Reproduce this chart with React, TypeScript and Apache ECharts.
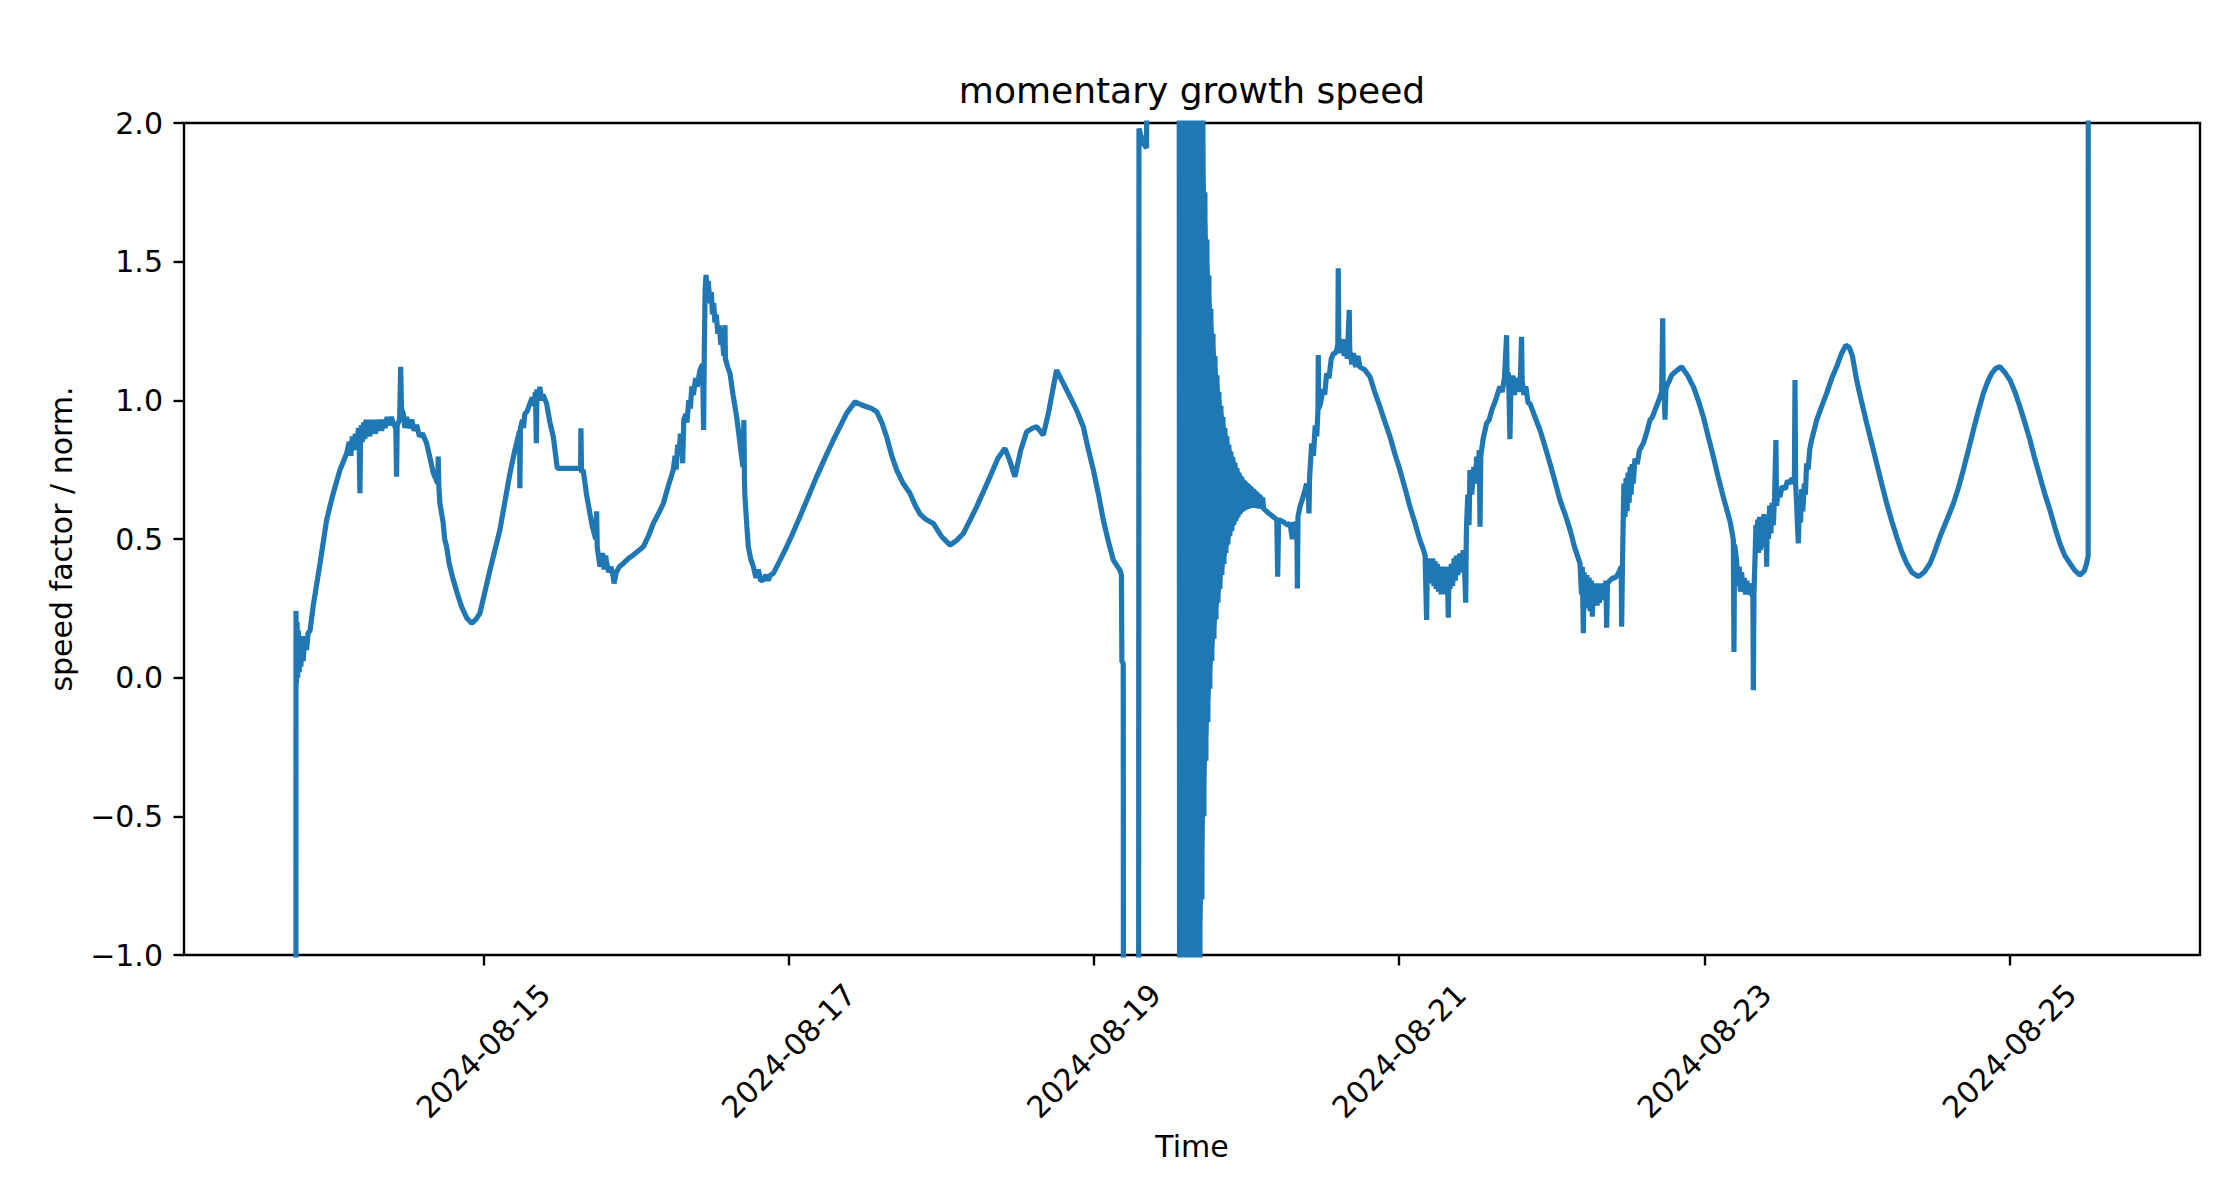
import React, { useEffect, useRef } from "react";
import * as echarts from "echarts";

// Time origin: 2024-08-15 00:00 (UTC). x values are days relative to it.
const ORIGIN = Date.UTC(2024, 7, 15);
const DAY_MS = 86400000;

const xTickLabels = ["2024-08-15", "2024-08-17", "2024-08-19", "2024-08-21", "2024-08-23", "2024-08-25"];
const yTickValues = [-1, -0.5, 0, 0.5, 1, 1.5, 2];

// [day offset, speed factor]
const aug13to15: [number, number][] = [
  [-1.230, -3.0], [-1.229, 0.24], [-1.226, -0.02], [-1.222, 0.20], [-1.218, 0.0], [-1.213, 0.17],
  [-1.208, 0.02], [-1.203, 0.15], [-1.197, 0.04], [-1.190, 0.14], [-1.182, 0.06], [-1.172, 0.15],
  [-1.160, 0.10], [-1.150, 0.16], [-1.137, 0.17], [-1.116, 0.26], [-1.072, 0.41], [-1.028, 0.57],
  [-0.985, 0.665], [-0.941, 0.749], [-0.897, 0.809], [-0.880, 0.85], [-0.870, 0.80], [-0.860, 0.87],
  [-0.850, 0.82], [-0.840, 0.88], [-0.830, 0.83], [-0.820, 0.90], [-0.815, 0.84], [-0.810, 0.665],
  [-0.806, 0.86], [-0.800, 0.91], [-0.795, 0.85], [-0.785, 0.92], [-0.778, 0.86], [-0.770, 0.93],
  [-0.762, 0.87], [-0.752, 0.92], [-0.745, 0.87], [-0.735, 0.93], [-0.727, 0.88], [-0.717, 0.93],
  [-0.708, 0.88], [-0.698, 0.93], [-0.690, 0.89], [-0.679, 0.93], [-0.668, 0.89], [-0.655, 0.93],
  [-0.645, 0.90], [-0.632, 0.94], [-0.620, 0.91], [-0.605, 0.94], [-0.591, 0.917], [-0.575, 0.90],
  [-0.570, 0.725], [-0.566, 0.91], [-0.550, 0.93], [-0.543, 1.121], [-0.538, 0.97], [-0.525, 0.95],
  [-0.515, 0.90], [-0.504, 0.94], [-0.490, 0.90], [-0.470, 0.93], [-0.455, 0.89], [-0.439, 0.911],
  [-0.420, 0.87], [-0.400, 0.88], [-0.373, 0.845], [-0.350, 0.79], [-0.329, 0.737], [-0.300, 0.70],
  [-0.297, 0.797], [-0.293, 0.69], [-0.286, 0.628], [-0.265, 0.56], [-0.255, 0.50], [-0.242, 0.472],
  [-0.225, 0.41], [-0.198, 0.352], [-0.170, 0.30], [-0.144, 0.256], [-0.110, 0.215], [-0.078, 0.196],
  [-0.050, 0.21], [-0.024, 0.232], [0.042, 0.388], [0.107, 0.533], [0.173, 0.737], [0.205, 0.82],
  [0.236, 0.89], [0.238, 0.683], [0.242, 0.90], [0.255, 0.93], [0.262, 0.90], [0.270, 0.95],
  [0.285, 0.96], [0.304, 0.989], [0.320, 1.01], [0.330, 0.98], [0.340, 1.03], [0.346, 0.845],
  [0.350, 1.04], [0.360, 1.00], [0.369, 1.049], [0.380, 1.00], [0.390, 1.02], [0.413, 0.989],
  [0.435, 0.92], [0.457, 0.869], [0.483, 0.755], [0.621, 0.755], [0.636, 0.76], [0.638, 0.899],
  [0.642, 0.74], [0.653, 0.749], [0.675, 0.66], [0.697, 0.592], [0.715, 0.54], [0.735, 0.50],
  [0.741, 0.60], [0.745, 0.47], [0.763, 0.40],
];

const aug15to17: [number, number][] = [
  [0.780, 0.45], [0.790, 0.39], [0.800, 0.44], [0.807, 0.412], [0.820, 0.38], [0.835, 0.40],
  [0.850, 0.364], [0.855, 0.34], [0.870, 0.38], [0.890, 0.40], [0.916, 0.412], [0.950, 0.43],
  [0.981, 0.442], [1.047, 0.472], [1.080, 0.51], [1.112, 0.556], [1.145, 0.59], [1.178, 0.628],
  [1.210, 0.69], [1.243, 0.749], [1.255, 0.80], [1.262, 0.75], [1.272, 0.84], [1.280, 0.80],
  [1.290, 0.88], [1.300, 0.85], [1.305, 0.773], [1.312, 0.93], [1.325, 0.95], [1.333, 0.92],
  [1.345, 1.00], [1.355, 0.97], [1.365, 1.05], [1.375, 1.02], [1.390, 1.08], [1.400, 1.05],
  [1.418, 1.109], [1.435, 1.13], [1.442, 0.893], [1.447, 1.20], [1.452, 1.40], [1.458, 1.452],
  [1.465, 1.38], [1.472, 1.43], [1.484, 1.35], [1.492, 1.39], [1.500, 1.31], [1.508, 1.35],
  [1.516, 1.28], [1.525, 1.31], [1.535, 1.24], [1.545, 1.27], [1.555, 1.20], [1.565, 1.22],
  [1.575, 1.16], [1.582, 1.271], [1.585, 1.15], [1.600, 1.12], [1.615, 1.097], [1.635, 1.02],
  [1.658, 0.941], [1.675, 0.87], [1.691, 0.797], [1.700, 0.76], [1.706, 0.929], [1.710, 0.70],
  [1.713, 0.652], [1.725, 0.55], [1.735, 0.472], [1.750, 0.43], [1.768, 0.400], [1.785, 0.36],
  [1.800, 0.39], [1.815, 0.35], [1.833, 0.352], [1.850, 0.37], [1.865, 0.35], [1.880, 0.37],
  [1.899, 0.376], [1.940, 0.42], [1.986, 0.472], [2.030, 0.525], [2.073, 0.580], [2.130, 0.655],
  [2.183, 0.725], [2.240, 0.795], [2.292, 0.857], [2.340, 0.91], [2.379, 0.953], [2.434, 0.995],
  [2.470, 0.985], [2.510, 0.977], [2.545, 0.97], [2.576, 0.959], [2.610, 0.92], [2.641, 0.869],
  [2.675, 0.80], [2.707, 0.749], [2.750, 0.70], [2.794, 0.665], [2.830, 0.62], [2.860, 0.59],
];

const aug17to19: [number, number][] = [
  [2.900, 0.57], [2.947, 0.556], [3.000, 0.51], [3.057, 0.478], [3.100, 0.495], [3.144, 0.520],
  [3.190, 0.57], [3.231, 0.616], [3.275, 0.67], [3.319, 0.725], [3.370, 0.79], [3.417, 0.827],
  [3.450, 0.78], [3.482, 0.725], [3.520, 0.82], [3.559, 0.887], [3.600, 0.90], [3.624, 0.905],
  [3.668, 0.875], [3.700, 0.95], [3.755, 1.109], [3.800, 1.06], [3.843, 1.013], [3.890, 0.96],
  [3.930, 0.905], [3.960, 0.83], [3.996, 0.749], [4.030, 0.66], [4.061, 0.569], [4.095, 0.49],
  [4.127, 0.424], [4.170, 0.388], [4.180, 0.37], [4.183, 0.06], [4.192, 0.05], [4.196, -5],
  [4.290, -5], [4.295, 1.98], [4.320, 1.93], [4.345, 1.91], [4.352, 5], [4.550, 5],
];

// dense oscillation after the gap on 2024-08-19: each swing goes up to burstUpper and down to burstLower
const burstDays = [
  4.557, 4.570, 4.583, 4.596, 4.609, 4.622, 4.636, 4.649, 4.662, 4.675,
  4.688, 4.701, 4.714, 4.727, 4.740, 4.753, 4.766, 4.780, 4.793, 4.806,
  4.819, 4.832, 4.845, 4.858, 4.871, 4.884, 4.897, 4.910, 4.924, 4.937,
  4.950, 4.967, 4.987, 5.006, 5.026, 5.046, 5.065, 5.085, 5.105,
];
const burstUpper = [
  5, 5, 5, 5, 5, 5, 5, 5, 5, 5,
  5, 5, 2.1, 1.75, 1.58, 1.45, 1.33, 1.24, 1.16, 1.09,
  1.03, 0.98, 0.94, 0.90, 0.87, 0.84, 0.815, 0.795, 0.775, 0.755,
  0.74, 0.725, 0.71, 0.70, 0.69, 0.68, 0.67, 0.66, 0.65,
];
const burstLower = [
  -5, -5, -5, -5, -5, -5, -5, -5, -5, -5,
  -1.2, -0.8, -0.5, -0.3, -0.16, -0.04, 0.06, 0.14, 0.21, 0.27,
  0.32, 0.37, 0.41, 0.45, 0.48, 0.51, 0.53, 0.55, 0.565, 0.578,
  0.59, 0.60, 0.607, 0.612, 0.615, 0.615, 0.614, 0.612, 0.61,
];
const SWING_HALF_DAY = 0.0065;

const aug20to22: [number, number][] = [
  [5.140, 0.595], [5.175, 0.580], [5.198, 0.57], [5.204, 0.364],
  [5.210, 0.57], [5.241, 0.562], [5.270, 0.55], [5.285, 0.556], [5.300, 0.50], [5.310, 0.56],
  [5.330, 0.54], [5.333, 0.322], [5.337, 0.58], [5.350, 0.616], [5.375, 0.66], [5.394, 0.700],
  [5.405, 0.66], [5.409, 0.592], [5.413, 0.72], [5.427, 0.845], [5.438, 0.80], [5.450, 0.91],
  [5.460, 0.87], [5.468, 0.965], [5.470, 1.163], [5.473, 0.97], [5.485, 0.99], [5.500, 1.04],
  [5.512, 1.02], [5.525, 1.097], [5.540, 1.08], [5.555, 1.15], [5.569, 1.169], [5.585, 1.17],
  [5.598, 1.199], [5.601, 1.476], [5.605, 1.19], [5.610, 1.22], [5.620, 1.17], [5.630, 1.22],
  [5.640, 1.16], [5.650, 1.20], [5.660, 1.15], [5.673, 1.326], [5.676, 1.18], [5.690, 1.13],
  [5.700, 1.17], [5.715, 1.12], [5.730, 1.16], [5.743, 1.12], [5.775, 1.11], [5.809, 1.085],
  [5.840, 1.03], [5.874, 0.977], [5.905, 0.925], [5.940, 0.869], [5.970, 0.81], [6.005, 0.749],
  [6.040, 0.68], [6.071, 0.616], [6.105, 0.555], [6.136, 0.496], [6.160, 0.46], [6.170, 0.44],
  [6.180, 0.208], [6.185, 0.43], [6.195, 0.36], [6.202, 0.412], [6.212, 0.34], [6.220, 0.43],
  [6.228, 0.33], [6.235, 0.42], [6.243, 0.32], [6.250, 0.41], [6.258, 0.31], [6.267, 0.40],
  [6.275, 0.30], [6.282, 0.40], [6.290, 0.30], [6.298, 0.39], [6.305, 0.31], [6.315, 0.40],
  [6.322, 0.216], [6.327, 0.38], [6.333, 0.32], [6.342, 0.41], [6.350, 0.33], [6.360, 0.43],
  [6.368, 0.35], [6.375, 0.44], [6.385, 0.37], [6.398, 0.448], [6.408, 0.38], [6.420, 0.46],
  [6.428, 0.40], [6.436, 0.270], [6.440, 0.50], [6.442, 0.556], [6.450, 0.66], [6.458, 0.55],
  [6.464, 0.749], [6.475, 0.66], [6.490, 0.76], [6.500, 0.70], [6.508, 0.797], [6.518, 0.75],
  [6.525, 0.82], [6.530, 0.544], [6.535, 0.80], [6.550, 0.86], [6.573, 0.917], [6.590, 0.93],
  [6.610, 0.97], [6.625, 0.99], [6.639, 1.013], [6.660, 1.05], [6.675, 1.03], [6.690, 1.08],
  [6.704, 1.235], [6.708, 1.07], [6.715, 1.10], [6.720, 1.02], [6.726, 0.86], [6.732, 1.05],
  [6.745, 1.09], [6.755, 1.02], [6.770, 1.08], [6.782, 1.03], [6.795, 1.09], [6.802, 1.229],
  [6.806, 1.07], [6.818, 1.02], [6.830, 1.05], [6.845, 0.99], [6.857, 0.989], [6.890, 0.94],
  [6.923, 0.893], [6.955, 0.835], [6.988, 0.773], [7.020, 0.71], [7.054, 0.640],
];

const aug22to24: [number, number][] = [
  [7.090, 0.585], [7.120, 0.533], [7.150, 0.47], [7.185, 0.412], [7.195, 0.30], [7.200, 0.40],
  [7.207, 0.160], [7.212, 0.38], [7.222, 0.27], [7.230, 0.37], [7.238, 0.25], [7.245, 0.36],
  [7.252, 0.24], [7.260, 0.35], [7.266, 0.22], [7.272, 0.33], [7.280, 0.26], [7.290, 0.34],
  [7.297, 0.26], [7.305, 0.33], [7.312, 0.27], [7.320, 0.34], [7.328, 0.28], [7.338, 0.34],
  [7.348, 0.29], [7.355, 0.35], [7.360, 0.18], [7.365, 0.34], [7.380, 0.35], [7.400, 0.36],
  [7.415, 0.36], [7.430, 0.37], [7.447, 0.388], [7.455, 0.40], [7.458, 0.184], [7.463, 0.40],
  [7.469, 0.592], [7.473, 0.70], [7.480, 0.58], [7.487, 0.72], [7.494, 0.60], [7.500, 0.74],
  [7.507, 0.63], [7.514, 0.76], [7.520, 0.66], [7.527, 0.77], [7.534, 0.70], [7.545, 0.79],
  [7.560, 0.77], [7.575, 0.82], [7.600, 0.845], [7.620, 0.88], [7.644, 0.929], [7.660, 0.94],
  [7.680, 0.97], [7.695, 0.99], [7.709, 1.013], [7.720, 1.03], [7.727, 1.296], [7.731, 1.00],
  [7.737, 1.04], [7.742, 0.93], [7.748, 1.04], [7.760, 1.06], [7.770, 1.07], [7.785, 1.09],
  [7.797, 1.097], [7.825, 1.11], [7.851, 1.121], [7.890, 1.09], [7.928, 1.049], [7.960, 1.00],
  [7.993, 0.941], [8.025, 0.87], [8.059, 0.797], [8.090, 0.725], [8.124, 0.652], [8.150, 0.60],
  [8.170, 0.56], [8.190, 0.496], [8.194, 0.093], [8.198, 0.48], [8.210, 0.43], [8.220, 0.33],
  [8.228, 0.40], [8.236, 0.31], [8.244, 0.38], [8.255, 0.31], [8.262, 0.36], [8.270, 0.30],
  [8.278, 0.35], [8.285, 0.30], [8.292, 0.34], [8.300, 0.30], [8.310, 0.304], [8.318, 0.29],
  [8.321, -0.045], [8.325, 0.30], [8.333, 0.45], [8.338, 0.55], [8.343, 0.46], [8.350, 0.57],
  [8.355, 0.45], [8.362, 0.58], [8.368, 0.46], [8.375, 0.58], [8.382, 0.47], [8.390, 0.59],
  [8.397, 0.48], [8.404, 0.58], [8.408, 0.40], [8.412, 0.55], [8.420, 0.50], [8.428, 0.62],
  [8.436, 0.52], [8.444, 0.63], [8.452, 0.55], [8.460, 0.65], [8.469, 0.857], [8.473, 0.62],
  [8.482, 0.66], [8.495, 0.652], [8.510, 0.69], [8.530, 0.68], [8.545, 0.71], [8.561, 0.700],
  [8.575, 0.72], [8.590, 0.70], [8.594, 1.073], [8.598, 0.70], [8.605, 0.62], [8.610, 0.55],
  [8.616, 0.484], [8.622, 0.62], [8.630, 0.56], [8.638, 0.68], [8.645, 0.60], [8.655, 0.70],
  [8.662, 0.66], [8.670, 0.773], [8.680, 0.75], [8.690, 0.82], [8.700, 0.85], [8.736, 0.929],
  [8.770, 0.98], [8.801, 1.025], [8.835, 1.08], [8.867, 1.121], [8.900, 1.17], [8.928, 1.199],
];

const aug24to25: [number, number][] = [
  [8.950, 1.19], [8.970, 1.16], [8.998, 1.073], [9.030, 0.995], [9.064, 0.917], [9.097, 0.845],
  [9.129, 0.773], [9.162, 0.70], [9.195, 0.628], [9.228, 0.565], [9.260, 0.508], [9.293, 0.455],
  [9.326, 0.412], [9.360, 0.38], [9.402, 0.364], [9.440, 0.38], [9.479, 0.412], [9.510, 0.455],
  [9.544, 0.508], [9.590, 0.57], [9.632, 0.628], [9.665, 0.685], [9.697, 0.749], [9.730, 0.82],
  [9.763, 0.893], [9.795, 0.96], [9.828, 1.025], [9.855, 1.065], [9.883, 1.097], [9.910, 1.115],
  [9.937, 1.121], [9.970, 1.10], [10.003, 1.073], [10.035, 1.03], [10.068, 0.977], [10.100, 0.92],
  [10.134, 0.857], [10.165, 0.79], [10.199, 0.725], [10.232, 0.66], [10.265, 0.604], [10.298, 0.54],
  [10.330, 0.484], [10.362, 0.44], [10.396, 0.412], [10.430, 0.385], [10.461, 0.370], [10.490, 0.385],
  [10.505, 0.412], [10.515, 0.44], [10.517, 5],
];

const X_MIN_DAY = -1.963;
const X_MAX_DAY = 11.248;

const FONT = "DejaVu Sans";
const BLUE = "#1f77b4";

function fmtY(v: number): string {
  const s = Math.abs(v).toFixed(1);
  return v < 0 ? "\u2212" + s : s;
}

const toMs = (d: number) => ORIGIN + d * DAY_MS;

export default function App() {
  const ref = useRef<HTMLDivElement | null>(null);

  useEffect(() => {
    if (!ref.current) return;
    const chart = echarts.init(ref.current, undefined, { renderer: "svg" });

    const burstSwings: [number, number][] = [];
    burstDays.forEach((d, i) => {
      burstSwings.push([d, burstUpper[i]]);
      burstSwings.push([d + SWING_HALF_DAY, burstLower[i]]);
    });

    const all = [
      ...aug13to15, ...aug15to17, ...aug17to19, ...burstSwings,
      ...aug20to22, ...aug22to24, ...aug24to25,
    ];
    const data = all.map(([d, v]) => [toMs(d), v]);
    const envelopeData = burstDays.map((d, i) => [toMs(d), burstUpper[i], burstLower[i]]);
    const xTickValues = xTickLabels.map((s) => Date.parse(s + "T00:00:00Z"));
    const yLo = yTickValues[0];
    const yHi = yTickValues[yTickValues.length - 1];
    const clampY = (v: number) => Math.max(yLo, Math.min(yHi, v));

    chart.setOption({
      animation: false,
      backgroundColor: "#ffffff",
      title: {
        text: "momentary growth speed",
        left: 1192,
        top: 72,
        padding: 0,
        textAlign: "center",
        textStyle: { fontFamily: FONT, fontSize: 36, fontWeight: "normal", color: "#000" },
      },
      grid: {
        left: 184, right: 38, top: 123, bottom: 224,
        show: true, borderColor: "#000", borderWidth: 2.4, backgroundColor: "transparent",
        containLabel: false,
      },
      xAxis: {
        type: "value",
        min: toMs(X_MIN_DAY),
        max: toMs(X_MAX_DAY),
        name: "Time",
        nameLocation: "middle",
        nameGap: 191,
        nameTextStyle: { fontFamily: FONT, fontSize: 30, color: "#000", verticalAlign: "middle", align: "center" },
        axisLine: { show: false, onZero: false },
        splitLine: { show: false },
        axisTick: {
          show: true, inside: false, length: 10.5, customValues: xTickValues,
          lineStyle: { color: "#000", width: 2.4 },
        },
        axisLabel: {
          show: true, customValues: xTickValues, rotate: 45, margin: 96,
          align: "center", verticalAlign: "middle",
          fontFamily: FONT, fontSize: 30, color: "#000",
          formatter: (val: number) => {
            const i = xTickValues.indexOf(val);
            return i >= 0 ? xTickLabels[i] : "";
          },
        },
      },
      yAxis: {
        type: "value",
        min: yLo,
        max: yHi,
        interval: 0.5,
        name: "speed factor / norm.",
        nameLocation: "middle",
        nameGap: 123,
        nameTextStyle: { fontFamily: FONT, fontSize: 30, color: "#000", verticalAlign: "middle", align: "center" },
        axisLine: { show: false, onZero: false },
        splitLine: { show: false },
        axisTick: { show: true, inside: false, length: 10.5, lineStyle: { color: "#000", width: 2.4 } },
        axisLabel: {
          margin: 21, fontFamily: FONT, fontSize: 30, color: "#000",
          formatter: (v: number) => fmtY(v),
        },
      },
      series: [
        {
          type: "custom",
          data: envelopeData,
          encode: { x: 0, y: 1 },
          silent: true,
          clip: true,
          z: 1,
          renderItem: (params: any, api: any) => {
            if (params.dataIndex !== 0) return null;
            const top = envelopeData.map((p) => api.coord([p[0], clampY(p[1])]));
            const bottom = envelopeData
              .map((p) => api.coord([p[0] + SWING_HALF_DAY * DAY_MS, clampY(p[2])]))
              .reverse();
            return {
              type: "polygon",
              shape: { points: [...top, ...bottom] },
              style: { fill: BLUE, stroke: BLUE, lineWidth: 2 },
            };
          },
        },
        {
          type: "line",
          data,
          symbol: "none",
          showSymbol: false,
          clip: true,
          lineStyle: { color: BLUE, width: 5.2 },
          itemStyle: { color: BLUE },
          z: 2,
        },
      ],
    });
    return () => chart.dispose();
  }, []);

  return (
    <div
      ref={ref}
      style={{ position: "fixed", left: 0, top: 0, width: "2238px", height: "1179px", background: "#fff" }}
    />
  );
}
